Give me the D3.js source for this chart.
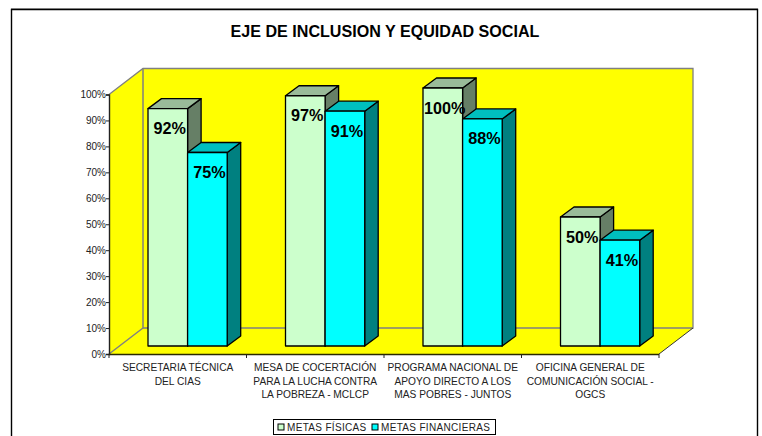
<!DOCTYPE html>
<html><head><meta charset="utf-8">
<style>html,body{margin:0;padding:0;background:#fff;overflow:hidden}svg{display:block}text{font-family:"Liberation Sans",Arial,sans-serif}</style>
<script src="https://cdnjs.cloudflare.com/ajax/libs/d3/7.8.5/d3.min.js"></script>
</head><body><script>
const title = "EJE DE INCLUSION Y EQUIDAD SOCIAL";
const categories = [
  ["SECRETARIA TÉCNICA","DEL CIAS"],
  ["MESA DE COCERTACIÓN","PARA LA LUCHA CONTRA","LA POBREZA - MCLCP"],
  ["PROGRAMA NACIONAL DE","APOYO DIRECTO A LOS","MAS POBRES - JUNTOS"],
  ["OFICINA GENERAL DE","COMUNICACIÓN SOCIAL -","OGCS"]
];
const metasFisicas = [92, 97, 100, 50];
const metasFinancieras = [75, 91, 88, 41];
const seriesNames = ["METAS FÍSICAS", "METAS FINANCIERAS"];
const yTicks = [0,10,20,30,40,50,60,70,80,90,100];

const W=762,H=436;
const svg=d3.select("body").append("svg").attr("width",W).attr("height",H);
svg.append("line").attr("x1",11).attr("x2",758).attr("y1",8.5).attr("y2",8.5).attr("stroke","#aaa").attr("stroke-width",1);
svg.append("path").attr("d","M11.5,440V9.5H757.5V440").attr("fill","none").attr("stroke","#000").attr("stroke-width",1.4);

svg.append("text").attr("x",385).attr("y",37).attr("text-anchor","middle")
  .attr("font-size",16.1).attr("font-weight","bold").text(title);

const x0=d3.scaleBand().domain(d3.range(4)).range([109,659]);
const yAxisScale=d3.scaleLinear().domain([0,100]).range([354,94.5]);
const yBar=d3.scaleLinear().domain([0,100]).range([346,88]);
const dx=34,dy=-26, bx=13.5,by=-10, barW=39.6, inset=39;

const line=d3.line();
const wall="#808080";
svg.append("path").attr("d",line([[109,yAxisScale(100)],[109+dx,yAxisScale(100)+dy],[109+dx,yAxisScale(0)+dy],[109,yAxisScale(0)]])+"Z").attr("fill","#ffff00");
svg.append("path").attr("d",line([[109,354],[659,354],[659+dx,354+dy],[109+dx,354+dy]])+"Z").attr("fill","#ffff00");
svg.append("rect").attr("x",109+dx).attr("y",yAxisScale(100)+dy).attr("width",550).attr("height",259.5).attr("fill","#ffff00");
svg.append("path").attr("d",line([[109,yAxisScale(100)],[109+dx,yAxisScale(100)+dy],[659+dx,yAxisScale(100)+dy],[659+dx,354+dy],[109+dx,354+dy]])).attr("fill","none").attr("stroke",wall).attr("stroke-width",1.3);
svg.append("path").attr("d",line([[109,354],[109+dx,354+dy],[109+dx,yAxisScale(100)+dy]])).attr("fill","none").attr("stroke",wall).attr("stroke-width",1.5);
svg.append("path").attr("d",line([[659,354],[659+dx,354+dy]])).attr("fill","none").attr("stroke","#333").attr("stroke-width",1);

const yAxis=d3.axisLeft(yAxisScale).tickValues(yTicks).tickFormat(d=>d+"%").tickSize(3).tickPadding(0);
const gy=svg.append("g").attr("transform","translate(109,0)").call(yAxis);
gy.selectAll("text").attr("font-size",10).attr("fill","#222").attr("font-family",'"Liberation Sans",Arial,sans-serif');
gy.selectAll("line").attr("stroke","#222");
gy.select(".domain").attr("stroke","#222").attr("stroke-width",1.4);
svg.append("line").attr("x1",109).attr("x2",659).attr("y1",354.5).attr("y2",354.5).attr("stroke","#2a2a00").attr("stroke-width",1.6);
svg.selectAll(".xt").data(d3.range(5)).join("line").attr("x1",d=>109+d*x0.step()).attr("x2",d=>109+d*x0.step()).attr("y1",354).attr("y2",358).attr("stroke","#222");

const styles=[
 {front:"#ccffcc",top:"#99bb99",side:"#667f66",values:metasFisicas,off:0},
 {front:"#00ffff",top:"#00bfbf",side:"#008080",values:metasFinancieras,off:barW}
];
const ink={stroke:"#000","stroke-width":1.3,"stroke-linejoin":"round"};
function poly(pts,fill){const p=svg.append("path").attr("d",line(pts)+"Z").attr("fill",fill);
  for(const k in ink)p.attr(k,ink[k]);}
categories.forEach((c,i)=>{
  styles.forEach(s=>{
    const l=x0(i)+inset+s.off,r=l+barW,t=yBar(s.values[i]),b=yBar(0);
    poly([[r,t],[r+bx,t+by],[r+bx,b+by],[r,b]],s.side);
    poly([[l,t],[l+bx,t+by],[r+bx,t+by],[r,t]],s.top);
    poly([[l,t],[r,t],[r,b],[l,b]],s.front);
  });
});
categories.forEach((c,i)=>{
  styles.forEach(s=>{
    svg.append("text").attr("x",x0(i)+inset+s.off+barW/2+2).attr("y",yBar(s.values[i])+25.5)
      .attr("text-anchor","middle").attr("font-size",16.2).attr("font-weight","bold").attr("fill","#000").text(s.values[i]+"%");
  });
});
const lineY=[371,384.5,398];
categories.forEach((c,i)=>{
  const t=svg.append("text").attr("text-anchor","middle").attr("font-size",10.2).attr("fill","#222");
  c.forEach((ln,j)=>t.append("tspan").attr("x",x0(i)+x0.bandwidth()/2).attr("y",lineY[j]).text(ln));
});
svg.append("rect").attr("x",273.5).attr("y",419.5).attr("width",222).attr("height",15).attr("fill","#fff").attr("stroke","#000").attr("stroke-width",1);
const legX=[278,372];
seriesNames.forEach((n,i)=>{
  svg.append("rect").attr("x",legX[i]).attr("y",424).attr("width",6).attr("height",6).attr("fill",styles[i].front).attr("stroke","#000").attr("stroke-width",1);
  svg.append("text").attr("x",legX[i]+9).attr("y",431).attr("font-size",10).attr("letter-spacing",0.32).attr("fill","#222").text(n);
});
</script></body></html>
